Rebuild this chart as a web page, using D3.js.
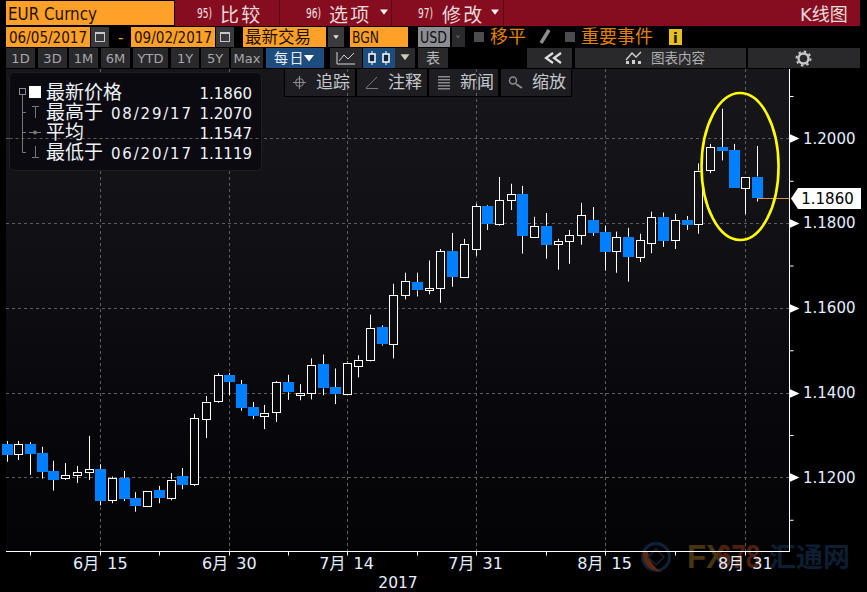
<!DOCTYPE html>
<html>
<head>
<meta charset="utf-8">
<script src="https://cdn.jsdelivr.net/npm/d3@7"></script>
<style>
html, body { margin: 0; padding: 0; background: #000; overflow: hidden; }
svg { display: block; }
</style>
</head>
<body>
<script>
// one entry per trading day
var dates = [
  "06/05","06/06","06/07","06/08","06/09","06/12","06/13","06/14","06/15","06/16",
  "06/19","06/20","06/21","06/22","06/23","06/26","06/27","06/28","06/29","06/30",
  "07/03","07/04","07/05","07/06","07/07","07/10","07/11","07/12","07/13","07/14",
  "07/17","07/18","07/19","07/20","07/21","07/24","07/25","07/26","07/27","07/28",
  "07/31","08/01","08/02","08/03","08/04","08/07","08/08","08/09","08/10","08/11",
  "08/14","08/15","08/16","08/17","08/18","08/21","08/22","08/23","08/24","08/25",
  "08/28","08/29","08/30","08/31","09/01"
];
var opens = [
  1.1279,1.1254,1.1279,1.1257,1.1215,1.1197,1.1204,1.1211,1.1220,1.1145,
  1.1198,1.1151,1.1133,1.1170,1.1152,1.1203,1.1183,1.1339,1.1379,1.1442,
  1.1420,1.1366,1.1346,1.1353,1.1425,1.1395,1.1399,1.1467,1.1413,1.1397,
  1.1463,1.1477,1.1554,1.1515,1.1630,1.1660,1.1642,1.1646,1.1735,1.1674,
  1.1738,1.1841,1.1798,1.1853,1.1869,1.1768,1.1794,1.1750,1.1757,1.1771,
  1.1808,1.1780,1.1733,1.1768,1.1721,1.1752,1.1815,1.1759,1.1808,1.1798,
  1.1925,1.1979,1.1972,1.1883,1.1910
];
var closes = [
  1.1253,1.1278,1.1255,1.1213,1.1194,1.1205,1.1212,1.1219,1.1144,1.1198,
  1.1149,1.1132,1.1169,1.1151,1.1195,1.1182,1.1339,1.1379,1.1441,1.1425,
  1.1364,1.1345,1.1353,1.1424,1.1401,1.1400,1.1466,1.1410,1.1396,1.1471,
  1.1478,1.1553,1.1514,1.1631,1.1664,1.1641,1.1647,1.1734,1.1674,1.1751,
  1.1840,1.1798,1.1854,1.1868,1.1770,1.1793,1.1749,1.1758,1.1772,1.1819,
  1.1777,1.1732,1.1767,1.1721,1.1760,1.1814,1.1758,1.1807,1.1796,1.1924,
  1.1979,1.1970,1.1882,1.1910,1.1860
];
var highs = [
  1.1286,1.1286,1.1283,1.1272,1.1239,1.1234,1.1227,1.1298,1.1231,1.1202,
  1.1215,1.1165,1.1169,1.1180,1.1210,1.1222,1.1350,1.1392,1.1446,1.1446,
  1.1430,1.1378,1.1371,1.1427,1.1442,1.1420,1.1481,1.1490,1.1457,1.1474,
  1.1488,1.1584,1.1559,1.1657,1.1683,1.1683,1.1712,1.1739,1.1777,1.1763,
  1.1846,1.1843,1.1909,1.1893,1.1888,1.1815,1.1824,1.1763,1.1784,1.1848,
  1.1838,1.1794,1.1780,1.1789,1.1775,1.1827,1.1825,1.1822,1.1817,1.1941,
  1.1987,1.2070,1.1987,1.1910,1.1982
];
var lows = [
  1.1237,1.1241,1.1206,1.1197,1.1169,1.1194,1.1187,1.1194,1.1134,1.1139,
  1.1144,1.1119,1.1130,1.1139,1.1146,1.1172,1.1180,1.1293,1.1376,1.1394,
  1.1357,1.1338,1.1314,1.1331,1.1383,1.1382,1.1384,1.1394,1.1373,1.1397,
  1.1436,1.1474,1.1511,1.1481,1.1620,1.1627,1.1632,1.1612,1.1650,1.1671,
  1.1723,1.1784,1.1794,1.1831,1.1728,1.1765,1.1716,1.1690,1.1704,1.1749,
  1.1770,1.1688,1.1683,1.1662,1.1708,1.1729,1.1744,1.1739,1.1784,1.1775,
  1.1918,1.1948,1.1882,1.1821,1.1851
];

var priceLabels = [1.12, 1.14, 1.16, 1.18, 1.20];
var minorPrices = [1.11, 1.13, 1.15, 1.17, 1.19, 1.21];
var labelDates = ["06/15", "06/30", "07/14", "07/31", "08/15", "08/31"];
var dateLabels = ["6月 15", "6月 30", "7月 14", "7月 31", "8月 15", "8月 31"];
var minorDates = ["06/07", "06/22", "07/07", "07/24", "08/08", "08/23"];
var lastPrice = 1.1860;

var legendNames = ["最新价格", "最高于", "平均", "最低于"];
var legendDates = ["", "08/29/17", "", "06/20/17"];
var legendValues = ["1.1860", "1.2070", "1.1547", "1.1119"];

var w = 867;
var h = 592;
var plotLeft = 6;
var plotRight = 789.5;
var plotTop = 69;
var plotBottom = 551.5;

var latin = "'DejaVu Sans', 'Noto Sans CJK SC', sans-serif";
var cjk = "'Noto Sans CJK SC', sans-serif";

var xScale = d3.scalePoint().domain(dates).range([6.5, 757]);
var yScale = d3.scaleLinear().domain([1.12, 1.20]).range([477.4, 138.4]);
var snap = v => Math.round(v) + 0.5;

var svg = d3.select("body").append("svg").attr("width", w).attr("height", h);

var grad = svg.append("defs").append("linearGradient")
    .attr("id", "plotBg")
    .attr("gradientUnits", "userSpaceOnUse")
    .attr("x1", 0).attr("x2", 0).attr("y1", plotTop).attr("y2", plotBottom);
grad.append("stop").attr("offset", 0).attr("stop-color", "#17171b");
grad.append("stop").attr("offset", 0.4).attr("stop-color", "#101014");
grad.append("stop").attr("offset", 0.75).attr("stop-color", "#07070b");
grad.append("stop").attr("offset", 1).attr("stop-color", "#040407");

svg.append("rect").attr("width", w).attr("height", h).attr("fill", "#000");
svg.append("rect")
    .attr("x", plotLeft).attr("y", plotTop)
    .attr("width", plotRight - plotLeft).attr("height", plotBottom - plotTop)
    .attr("fill", "url(#plotBg)");

function label(x, y, str, size, color, anchor, family) {
    return svg.append("text")
        .attr("x", x).attr("y", y)
        .attr("font-size", size)
        .attr("font-family", family || latin)
        .attr("fill", color)
        .attr("text-anchor", anchor || "start")
        .text(str);
}

function squeezed(x, y, str, size, color, len) {
    return label(x, y, str, size, color)
        .attr("textLength", len)
        .attr("lengthAdjust", "spacingAndGlyphs");
}

function box(x, y, bw, bh, fill) {
    return svg.append("rect")
        .attr("x", x).attr("y", y).attr("width", bw).attr("height", bh)
        .attr("fill", fill);
}

function tri(cx, cy, size, fill) {
    svg.append("path")
        .attr("d", `M${cx - size},${cy - size * 0.6}L${cx + size},${cy - size * 0.6}L${cx},${cy + size * 0.7}Z`)
        .attr("fill", fill);
}

// watermark sits behind the axis and its labels
var mark = svg.append("g").attr("opacity", 0.9);
mark.append("circle").attr("cx", 656).attr("cy", 557).attr("r", 13.5)
    .attr("fill", "none").attr("stroke", "#10263f").attr("stroke-width", 3);
mark.append("path").attr("d", "M643,552Q642,570 662,572Q650,566 648,552Z").attr("fill", "#6b2c10");
mark.append("path").attr("d", "M656,549L664,557L656,565L648,557Z")
    .attr("fill", "none").attr("stroke", "#14283f").attr("stroke-width", 1.5);
mark.append("text").attr("x", 687).attr("y", 568)
    .attr("font-family", "'Liberation Sans', sans-serif").attr("font-weight", "bold")
    .attr("font-size", 34).attr("textLength", 40).attr("lengthAdjust", "spacingAndGlyphs")
    .attr("fill", "#4f3a12").text("FX");
mark.append("text").attr("x", 717).attr("y", 568)
    .attr("font-family", "'Liberation Sans', sans-serif").attr("font-weight", "bold")
    .attr("font-size", 34).attr("textLength", 43).attr("lengthAdjust", "spacingAndGlyphs")
    .attr("fill", "#57230f").text("678");
mark.append("text").attr("x", 769).attr("y", 567)
    .attr("font-family", cjk).attr("font-weight", "bold")
    .attr("font-size", 27).attr("fill", "#0f2238").text("汇通网");

// grid
var gridColor = "#5e5e62";
svg.append("g").selectAll("line").data(priceLabels).enter().append("line")
    .attr("x1", plotLeft).attr("x2", plotRight)
    .attr("y1", d => snap(yScale(d))).attr("y2", d => snap(yScale(d)))
    .attr("stroke", gridColor).attr("stroke-dasharray", "3,3");
svg.append("g").selectAll("line").data(labelDates).enter().append("line")
    .attr("x1", d => snap(xScale(d))).attr("x2", d => snap(xScale(d)))
    .attr("y1", plotTop).attr("y2", plotBottom)
    .attr("stroke", gridColor).attr("stroke-dasharray", "3,3");

// candles
var candles = d3.range(dates.length).map(i => ({
    date: dates[i], open: opens[i], close: closes[i], high: highs[i], low: lows[i]
}));
var candleG = svg.append("g").selectAll("g").data(candles).enter().append("g");
candleG.append("line")
    .attr("x1", d => snap(xScale(d.date))).attr("x2", d => snap(xScale(d.date)))
    .attr("y1", d => yScale(d.high)).attr("y2", d => yScale(Math.max(d.open, d.close)))
    .attr("stroke", "#fff");
candleG.append("line")
    .attr("x1", d => snap(xScale(d.date))).attr("x2", d => snap(xScale(d.date)))
    .attr("y1", d => yScale(Math.min(d.open, d.close))).attr("y2", d => yScale(d.low))
    .attr("stroke", "#fff");
candleG.filter(d => d.close < d.open).append("rect")
    .attr("x", d => snap(xScale(d.date)) - 5.5)
    .attr("width", 11)
    .attr("y", d => Math.round(yScale(d.open)))
    .attr("height", d => Math.max(1, Math.round(yScale(d.close) - yScale(d.open))))
    .attr("fill", "#0080ff");
candleG.filter(d => d.close >= d.open).append("rect")
    .attr("x", d => snap(xScale(d.date)) - 4)
    .attr("width", 8)
    .attr("y", d => snap(yScale(d.close)))
    .attr("height", d => Math.max(1, Math.round(yScale(d.open) - yScale(d.close))))
    .attr("fill", "url(#plotBg)")
    .attr("stroke", "#fff");

// axes
var yAxis = d3.axisRight(yScale)
    .tickValues(minorPrices.concat(priceLabels))
    .tickSize(4)
    .tickPadding(9.5)
    .tickFormat(d => priceLabels.some(p => Math.abs(p - d) < 1e-6) ? d3.format(".4f")(d) : "");
var yG = svg.append("g").attr("transform", `translate(${plotRight},0)`).call(yAxis);
yG.select(".domain").remove();
yG.selectAll("line").attr("stroke", "#fff");
yG.selectAll("text").attr("font-family", latin).attr("font-size", 15).attr("fill", "#e4f0ff");
svg.append("line")
    .attr("x1", plotRight).attr("x2", plotRight).attr("y1", plotTop).attr("y2", plotBottom)
    .attr("stroke", "#fff");
svg.append("g").selectAll("path").data(priceLabels).enter().append("path")
    .attr("d", d => {
        var y = snap(yScale(d));
        return `M${plotRight},${y - 4.5}L${plotRight + 10},${y}L${plotRight},${y + 4.5}Z`;
    })
    .attr("fill", "#fff");

var xAxis = d3.axisBottom(xScale).tickValues(minorDates.concat(labelDates)).tickSize(4).tickFormat("");
var xG = svg.append("g").attr("transform", `translate(0,${plotBottom})`).call(xAxis);
xG.select(".domain").remove();
xG.selectAll("line").attr("stroke", "#fff");
xG.selectAll("g.tick").attr("transform", d => `translate(${snap(xScale(d))},0)`);
svg.append("line")
    .attr("x1", plotLeft).attr("x2", plotRight + 0.5).attr("y1", plotBottom).attr("y2", plotBottom)
    .attr("stroke", "#fff");
svg.append("g").selectAll("text").data(labelDates).enter().append("text")
    .attr("x", d => xScale(d))
    .attr("y", 569)
    .attr("text-anchor", "middle")
    .attr("font-family", latin).attr("font-size", 16).attr("word-spacing", 3).attr("fill", "#e4f0ff")
    .text((d, i) => dateLabels[i]);
label(398, 587.5, "2017", 15.5, "#e4f0ff", "middle");

// last price marker
var lastY = snap(yScale(lastPrice));
svg.append("line")
    .attr("x1", xScale("09/01")).attr("x2", plotRight).attr("y1", lastY).attr("y2", lastY)
    .attr("stroke", "#d6953c");
svg.append("path")
    .attr("d", `M791,${lastY}L798,${lastY - 10.5}L861,${lastY - 10.5}L861,${lastY + 10.5}L798,${lastY + 10.5}Z`)
    .attr("fill", "#fff");
label(827.5, lastY + 5.5, d3.format(".4f")(lastPrice), 15, "#000", "middle");

// yellow ring hand drawn over the last few candles
svg.append("ellipse")
    .attr("cx", xScale("08/30") + 6.5).attr("cy", 166.5)
    .attr("rx", 38.5).attr("ry", 73.5)
    .attr("fill", "none").attr("stroke", "#ffff00").attr("stroke-width", 2.6);

// legend panel, the 1.20 grid line still shows through it
svg.append("rect")
    .attr("x", 9.5).attr("y", 72.5).attr("width", 252).attr("height", 98).attr("rx", 5)
    .attr("fill", "#0a0a10").attr("stroke", "#1e1e24");
svg.append("line")
    .attr("x1", 9.5).attr("x2", 261.5)
    .attr("y1", snap(yScale(1.20))).attr("y2", snap(yScale(1.20)))
    .attr("stroke", gridColor).attr("stroke-dasharray", "3,3");
var rowY = [98.5, 118.5, 138.5, 158.5];
svg.append("path")
    .attr("d", "M22.5,95V152.5H26M22.5,112.5H26M22.5,132.5H26")
    .attr("fill", "none").attr("stroke", "#77777b");
svg.append("rect").attr("x", 19.5).attr("y", 88.5).attr("width", 6).attr("height", 6)
    .attr("fill", "none").attr("stroke", "#8a8a8e");
box(29, 86, 12, 12, "#fff");
svg.append("path").attr("d", "M32,106.5H39M35.5,106.5V118").attr("stroke", "#77777b").attr("fill", "none");
svg.append("path").attr("d", "M29,132.5H41").attr("stroke", "#77777b").attr("fill", "none");
svg.append("circle").attr("cx", 35).attr("cy", 132.5).attr("r", 2).attr("fill", "#77777b");
svg.append("path").attr("d", "M32,157.5H39M35.5,146V157.5").attr("stroke", "#77777b").attr("fill", "none");
legendNames.forEach((name, i) => {
    label(46, rowY[i], name, 19, "#f0f4fa", "start", cjk);
    if (legendDates[i]) {
        label(111, rowY[i], legendDates[i], 15, "#f0f4fa").attr("textLength", 80);
    }
    label(252, rowY[i], legendValues[i], 15, "#f0f4fa", "end");
});

// title bar
box(175, 0, 685, 26, "#860d20");
box(6, 1, 168, 24, "#ffa028");
squeezed(8, 19.5, "EUR Curncy", 18, "#1c1000", 89);
[279, 391, 503].forEach(x => box(x, 0, 1, 26, "#5c0814"));
function menu(numX, num, textX, str, arrowX) {
    squeezed(numX, 18, num, 14, "#efe4e4", 15);
    label(textX, 22, str, 19, "#e6dada", "start", cjk).attr("letter-spacing", 2.2);
    if (arrowX) tri(arrowX, 12, 4, "#f4f4f4");
}
menu(197, "95)", 220, "比较");
menu(306, "96)", 329, "选项", 384);
menu(418, "97)", 442, "修改", 495);
label(800, 21, "K线图", 18, "#e6dada");

// second row
var orange = "#ffa028";
var dim = "#3a3a3d";
function calendar(x) {
    box(x, 27, 18, 20, dim);
    svg.append("rect").attr("x", x + 4.5).attr("y", 33.5).attr("width", 9).attr("height", 8)
        .attr("fill", "none").attr("stroke", "#c8c8c8");
    box(x + 4, 32, 10, 2, "#c8c8c8");
}
box(6, 27, 84, 20, orange);
squeezed(9, 43, "06/05/2017", 15, "#1c1000", 78);
calendar(91);
label(118, 43, "-", 15, orange);
box(131, 27, 84, 20, orange);
squeezed(134, 43, "09/02/2017", 15, "#1c1000", 78);
calendar(216);
box(243, 27, 83, 20, orange);
label(245, 43, "最新交易", 16.5, "#1c1000", "start", cjk);
box(328, 27, 16, 20, dim);
tri(336, 37, 2.8, "#e0e0e0");
box(350, 27, 58, 20, orange);
squeezed(352, 43, "BGN", 15, "#1c1000", 27);
box(418, 27, 32, 20, "#8c8c92");
squeezed(420, 43, "USD", 15, "#101010", 27);
box(452, 27, 13, 20, "#2a2a2c");
tri(458, 37, 2.5, "#555");
box(474, 32, 10, 10, "#4c4c4e");
label(490, 43, "移平", 18, "#e08200", "start", cjk);
svg.append("path").attr("d", "M541,43L549,30").attr("stroke", "#8e8e90").attr("stroke-width", 3.5);
box(565, 32, 10, 10, "#4c4c4e");
label(581, 43, "重要事件", 18, "#e08200", "start", cjk);
box(669, 29, 13, 16, "#e8c020");
label(675.5, 43, "i", 14, "#1a1400", "middle").attr("font-weight", "bold");

// third row, range buttons
function button(x, bw, str, fill, color, size, family) {
    box(x, 48, bw, 20, fill || "#29292c");
    if (str) label(x + bw / 2, 63, str, size || 13, color || "#a8a8aa", "middle", family);
}
[[6, 29, "1D"], [38, 29, "3D"], [69, 29, "1M"], [101, 29, "6M"], [133, 35, "YTD"],
 [171, 28, "1Y"], [201, 28, "5Y"], [231, 32, "Max"]].forEach(b => button(b[0], b[1], b[2]));
button(266, 58, "", "#1d4d7e");
label(274, 63, "每日", 14, "#e8eef6", "start", cjk).attr("letter-spacing", 1.5);
tri(309, 58, 5, "#fff");
button(330, 32, "");
svg.append("path").attr("d", "M337,52V64H355M339,61L344,55L348,59L354,53")
    .attr("fill", "none").attr("stroke", "#d8d8d8");
button(363, 32, "", "#1d4d7e");
[372, 386].forEach(x => {
    svg.append("line").attr("x1", x).attr("x2", x).attr("y1", 51).attr("y2", 65).attr("stroke", "#fff");
    svg.append("rect").attr("x", x - 3).attr("y", 54).attr("width", 6).attr("height", 8)
        .attr("fill", "#10263f").attr("stroke", "#fff").attr("stroke-width", 1.5);
});
button(395, 20, "");
tri(405, 57, 4.5, "#c8ccb4");
button(418, 30, "表", "#29292c", "#b8b8ba", 14, cjk);
button(527, 45, "");
svg.append("path").attr("d", "M553,53L546,58L553,63M561,53L554,58L561,63")
    .attr("fill", "none").attr("stroke", "#e0e0e0").attr("stroke-width", 2.2);
button(575, 171, "");
svg.append("path").attr("d", "M626,60L632,53L636,57L641,52").attr("fill", "none").attr("stroke", "#d0d0d0").attr("stroke-width", 1.4);
box(626, 61, 3, 3, "#d0d0d0");
box(632, 60, 3, 4, "#d0d0d0");
box(638, 61, 3, 3, "#d0d0d0");
label(651, 63, "图表内容", 13.5, "#b0b0b2", "start", cjk);
button(748, 112, "");
svg.append("circle").attr("cx", 803.5).attr("cy", 58.5).attr("r", 5)
    .attr("fill", "none").attr("stroke", "#c8c8c8").attr("stroke-width", 2.4);
svg.append("circle").attr("cx", 803.5).attr("cy", 58.5).attr("r", 7)
    .attr("fill", "none").attr("stroke", "#c8c8c8").attr("stroke-width", 2).attr("stroke-dasharray", "2.5,3");

// chart tools, the vertical grid shows through them
box(284, 69, 288, 28, "#000");
[[285, 70], [357, 70], [429, 69], [501, 70]].forEach(b => box(b[0], 69, b[1], 27, "#1e1e22"));
svg.append("g").selectAll("line").data(["07/14", "07/31"]).enter().append("line")
    .attr("x1", d => snap(xScale(d))).attr("x2", d => snap(xScale(d)))
    .attr("y1", 69).attr("y2", 96)
    .attr("stroke", gridColor).attr("stroke-dasharray", "3,3");
[[316, "追踪"], [388, "注释"], [460, "新闻"], [532, "缩放"]].forEach(t => label(t[0], 88, t[1], 17, "#c4c8cc", "start", cjk));
svg.append("circle").attr("cx", 299.5).attr("cy", 82.5).attr("r", 4).attr("fill", "none").attr("stroke", "#8e8e90");
svg.append("path").attr("d", "M293,82.5H306M299.5,76V89").attr("stroke", "#8e8e90");
svg.append("path").attr("d", "M366,88L377,77M366,88.5H378").attr("stroke", "#77777a").attr("fill", "none");
[76, 79, 82, 85, 88].forEach(y => box(438, y, 12, 1.5, "#8a8a8c"));
svg.append("circle").attr("cx", 513).attr("cy", 80.5).attr("r", 3.5).attr("fill", "none").attr("stroke", "#8e8e90").attr("stroke-width", 1.5);
svg.append("path").attr("d", "M516,84L522,88").attr("stroke", "#8e8e90").attr("stroke-width", 2);
</script>
</body>
</html>
